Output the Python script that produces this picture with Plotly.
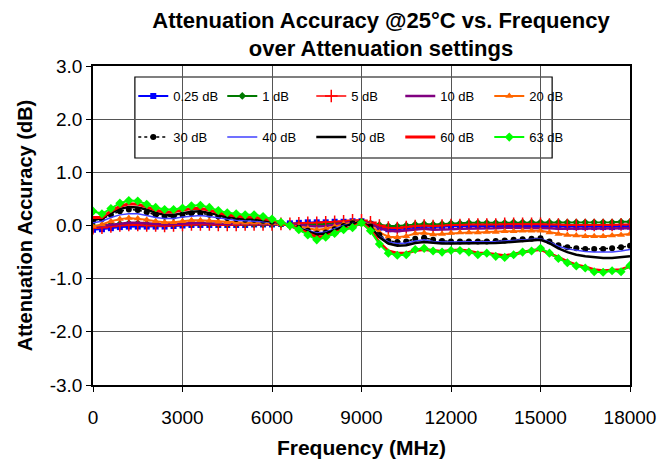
import plotly.graph_objects as go

FREQ = [0, 300, 600, 900, 1200, 1500, 1800, 2100, 2400, 2700,
        3000, 3300, 3600, 3900, 4200, 4500, 4800, 5100, 5400, 5700,
        6000, 6300, 6600, 6900, 7200, 7500, 7800, 8100, 8400, 8700,
        9000, 9300, 9600, 9900, 10200, 10500, 10800, 11100, 11400, 11700,
        12000, 12300, 12600, 12900, 13200, 13500, 13800, 14100, 14400, 14700,
        15000, 15300, 15600, 15900, 16200, 16500, 16800, 17100, 17400, 17700,
        18000]

A_0_25 = [-0.08, -0.07, -0.05, -0.03, -0.02, -0.02, -0.02, -0.02, -0.02, -0.01,
          0.0, 0.01, 0.01, 0.01, 0.01, 0.01, 0.01, 0.01, 0.02, 0.02,
          0.02, 0.03, 0.04, 0.05, 0.06, 0.06, 0.06, 0.07, 0.07, 0.08,
          0.08, 0.03, -0.04, -0.07, -0.07, -0.05, -0.03, -0.02, -0.03, -0.02,
          -0.01, -0.01, -0.01, -0.01, -0.01, -0.01, 0.0, 0.0, 0.0, 0.0,
          0.0, -0.01, -0.02, -0.02, -0.03, -0.03, -0.03, -0.03, -0.03, -0.02,
          -0.02]
A_1 = [-0.01, 0.0, 0.02, 0.03, 0.04, 0.04, 0.03, 0.02, 0.02, 0.02,
       0.03, 0.03, 0.03, 0.03, 0.02, 0.02, 0.02, 0.02, 0.02, 0.02,
       0.02, 0.02, 0.02, 0.02, 0.02, 0.02, 0.03, 0.04, 0.05, 0.06,
       0.07, 0.04, 0.01, -0.01, -0.01, 0.0, 0.02, 0.03, 0.02, 0.03,
       0.04, 0.04, 0.05, 0.05, 0.05, 0.05, 0.05, 0.06, 0.06, 0.06,
       0.06, 0.06, 0.06, 0.06, 0.06, 0.06, 0.06, 0.06, 0.06, 0.07,
       0.07]
A_5 = [-0.05, -0.04, -0.02, 0.0, 0.01, 0.01, 0.0, 0.0, -0.01, 0.0,
       0.01, 0.02, 0.02, 0.02, 0.01, 0.01, 0.01, 0.02, 0.02, 0.02,
       0.02, 0.03, 0.03, 0.04, 0.05, 0.05, 0.06, 0.07, 0.08, 0.1,
       0.1, 0.06, 0.0, -0.04, -0.05, -0.03, -0.01, 0.0, -0.01, 0.0,
       0.01, 0.01, 0.02, 0.02, 0.02, 0.02, 0.03, 0.03, 0.03, 0.03,
       0.03, 0.02, 0.02, 0.01, 0.01, 0.01, 0.01, 0.01, 0.01, 0.02,
       0.02]
A_10 = [-0.03, -0.01, 0.02, 0.04, 0.05, 0.05, 0.04, 0.03, 0.02, 0.03,
        0.04, 0.05, 0.05, 0.04, 0.03, 0.03, 0.03, 0.03, 0.03, 0.03,
        0.03, 0.03, 0.02, 0.01, 0.0, -0.02, -0.01, 0.02, 0.05, 0.07,
        0.08, 0.03, -0.05, -0.1, -0.11, -0.09, -0.07, -0.06, -0.08, -0.08,
        -0.07, -0.06, -0.06, -0.05, -0.05, -0.05, -0.04, -0.04, -0.04, -0.04,
        -0.04, -0.05, -0.06, -0.06, -0.06, -0.06, -0.06, -0.06, -0.05, -0.05,
        -0.05]
A_20 = [-0.02, 0.02, 0.08, 0.12, 0.14, 0.13, 0.11, 0.08, 0.06, 0.06,
        0.08, 0.1, 0.1, 0.09, 0.07, 0.06, 0.05, 0.05, 0.05, 0.05,
        0.04, 0.03, 0.01, -0.02, -0.05, -0.08, -0.06, -0.02, 0.03, 0.06,
        0.08, 0.0, -0.13, -0.21, -0.22, -0.2, -0.15, -0.14, -0.17, -0.16,
        -0.14, -0.13, -0.13, -0.13, -0.12, -0.12, -0.11, -0.11, -0.1, -0.1,
        -0.1, -0.13, -0.16, -0.18, -0.19, -0.2, -0.2, -0.2, -0.19, -0.18,
        -0.16]
A_30 = [0.08, 0.12, 0.2, 0.27, 0.3, 0.29, 0.25, 0.2, 0.17, 0.17,
        0.2, 0.23, 0.23, 0.2, 0.17, 0.14, 0.12, 0.11, 0.11, 0.09,
        0.07, 0.05, 0.0, -0.04, -0.1, -0.15, -0.13, -0.07, -0.01, 0.04,
        0.07, -0.02, -0.18, -0.29, -0.31, -0.3, -0.25, -0.23, -0.27, -0.29,
        -0.3, -0.3, -0.3, -0.3, -0.3, -0.29, -0.28, -0.27, -0.26, -0.25,
        -0.24, -0.3, -0.37, -0.41, -0.43, -0.44, -0.44, -0.44, -0.43, -0.41,
        -0.38]
A_40 = [0.05, 0.08, 0.15, 0.2, 0.22, 0.22, 0.19, 0.15, 0.13, 0.13,
        0.16, 0.18, 0.19, 0.17, 0.14, 0.12, 0.1, 0.09, 0.09, 0.08,
        0.06, 0.04, 0.0, -0.04, -0.09, -0.14, -0.12, -0.06, 0.0, 0.04,
        0.07, -0.03, -0.2, -0.31, -0.34, -0.33, -0.29, -0.27, -0.3, -0.31,
        -0.31, -0.31, -0.31, -0.31, -0.3, -0.3, -0.29, -0.28, -0.27, -0.26,
        -0.25, -0.31, -0.39, -0.44, -0.47, -0.49, -0.5, -0.5, -0.5, -0.48,
        -0.45]
A_50 = [0.1, 0.14, 0.24, 0.31, 0.35, 0.34, 0.3, 0.24, 0.2, 0.2,
        0.23, 0.26, 0.27, 0.24, 0.2, 0.16, 0.14, 0.12, 0.12, 0.1,
        0.08, 0.05, 0.0, -0.05, -0.11, -0.17, -0.15, -0.09, -0.02, 0.03,
        0.07, -0.03, -0.22, -0.34, -0.38, -0.37, -0.33, -0.31, -0.33, -0.34,
        -0.34, -0.34, -0.34, -0.34, -0.33, -0.33, -0.32, -0.31, -0.29, -0.28,
        -0.27, -0.33, -0.43, -0.5, -0.55, -0.58, -0.6, -0.61, -0.61, -0.6,
        -0.58]
A_60 = [0.15, 0.15, 0.27, 0.36, 0.41, 0.4, 0.35, 0.29, 0.25, 0.26,
        0.29, 0.32, 0.32, 0.29, 0.24, 0.2, 0.18, 0.16, 0.16, 0.13,
        0.1, 0.05, 0.0, -0.07, -0.15, -0.22, -0.2, -0.13, -0.07, -0.03,
        0.06, -0.08, -0.32, -0.48, -0.52, -0.52, -0.47, -0.45, -0.47, -0.49,
        -0.47, -0.46, -0.48, -0.52, -0.52, -0.55, -0.57, -0.54, -0.5, -0.47,
        -0.45, -0.52, -0.6, -0.68, -0.74, -0.78, -0.83, -0.85, -0.84, -0.83,
        -0.77]
A_63 = [0.27, 0.22, 0.32, 0.42, 0.47, 0.46, 0.4, 0.34, 0.3, 0.3,
        0.33, 0.37, 0.38, 0.34, 0.28, 0.24, 0.22, 0.2, 0.2, 0.17,
        0.12, 0.06, 0.0, -0.08, -0.18, -0.27, -0.22, -0.15, -0.08, -0.04,
        0.05, -0.1, -0.35, -0.52, -0.56, -0.55, -0.45, -0.43, -0.48, -0.5,
        -0.47, -0.47, -0.5, -0.55, -0.52, -0.58, -0.6, -0.55, -0.5, -0.48,
        -0.43, -0.52, -0.62, -0.7, -0.76, -0.8, -0.87, -0.88, -0.85, -0.87,
        -0.75]

NAMES = ["0.25 dB", "1 dB", "5 dB", "10 dB", "20 dB",
         "30 dB", "40 dB", "50 dB", "60 dB", "63 dB"]
SERIES = [A_0_25, A_1, A_5, A_10, A_20, A_30, A_40, A_50, A_60, A_63]

X_TICKS = [0, 3000, 6000, 9000, 12000, 15000, 18000]
Y_TICKS = [-3.0, -2.0, -1.0, 0.0, 1.0, 2.0, 3.0]

FONT = "Liberation Sans, Arial, sans-serif"

STYLES = [
    dict(mode="lines+markers", line=dict(color="#0000FF", width=2),
         marker=dict(symbol="square", size=6, color="#0000FF")),
    dict(mode="lines+markers", line=dict(color="#007A00", width=2),
         marker=dict(symbol="diamond", size=6, color="#007A00")),
    dict(mode="lines+markers", line=dict(color="#FF0000", width=1.5),
         marker=dict(symbol="cross-thin", size=9, line=dict(color="#FF0000", width=1.5))),
    dict(mode="lines", line=dict(color="#800080", width=2.5)),
    dict(mode="lines+markers", line=dict(color="#FF6600", width=2),
         marker=dict(symbol="triangle-up", size=7, color="#FF6600")),
    dict(mode="lines+markers", line=dict(color="#000000", width=1.5, dash="dot"),
         marker=dict(symbol="circle", size=6, color="#000000")),
    dict(mode="lines", line=dict(color="#4040FF", width=1.5)),
    dict(mode="lines", line=dict(color="#000000", width=2.5)),
    dict(mode="lines", line=dict(color="#FF0000", width=3)),
    dict(mode="lines+markers", line=dict(color="#00FF00", width=2),
         marker=dict(symbol="diamond", size=7, color="#00FF00")),
]

fig = go.Figure()
for i, (name, ys, st) in enumerate(zip(NAMES, SERIES, STYLES)):
    fig.add_trace(go.Scatter(x=FREQ, y=ys, name=name,
                             legend="legend" if i < 5 else "legend2", **st))

leg_common = dict(orientation="h", xanchor="left", yanchor="middle",
                  bgcolor="rgba(0,0,0,0)", borderwidth=0,
                  font=dict(family=FONT, size=13, color="#000"),
                  entrywidth=44, entrywidthmode="pixels", itemwidth=30,
                  traceorder="normal")

fig.update_layout(
    width=663, height=465,
    margin=dict(l=85, r=41, t=58, b=88, autoexpand=False),
    paper_bgcolor="white", plot_bgcolor="white",
    title=dict(text="<b>Attenuation Accuracy @25°C vs. Frequency<br>over Attenuation settings</b>",
               x=0.5626, xanchor="center", y=0.958, yanchor="top",
               font=dict(family=FONT, size=22, color="#000")),
    legend=dict(x=0.075, y=0.906, **leg_common),
    legend2=dict(x=0.075, y=0.777, **leg_common),
    shapes=[dict(type="rect", xref="paper", yref="paper",
                 x0=0.078, x1=0.855, y0=0.7116, y1=0.9655,
                 line=dict(color="#000", width=1.2), fillcolor="white", layer="below")],
)

fig.update_xaxes(range=[0, 18000], tickvals=X_TICKS, ticktext=[str(v) for v in X_TICKS],
                 automargin=False,
                 showgrid=True, gridcolor="#555555", gridwidth=1,
                 showline=True, linecolor="#000", linewidth=1.5, mirror=True,
                 ticks="outside", ticklen=5, tickcolor="#000", ticklabelstandoff=9,
                 tickfont=dict(family=FONT, size=19, color="#000"),
                 title=dict(text="<b>Frequency (MHz)</b>", standoff=14,
                            font=dict(family=FONT, size=21, color="#000")),
                 zeroline=False)
fig.update_yaxes(range=[-3, 3], tickvals=Y_TICKS, ticktext=[f"{v:.1f}" for v in Y_TICKS],
                 automargin=False,
                 showgrid=True, gridcolor="#555555", gridwidth=1,
                 showline=True, linecolor="#000", linewidth=1.5, mirror=True,
                 ticks="outside", ticklen=5, tickcolor="#000",
                 tickfont=dict(family=FONT, size=19, color="#000"),
                 title=dict(text="<b>Attenuation Accuracy (dB)</b>", standoff=12,
                            font=dict(family=FONT, size=20, color="#000")),
                 zeroline=False)

fig.write_html("out.html")
